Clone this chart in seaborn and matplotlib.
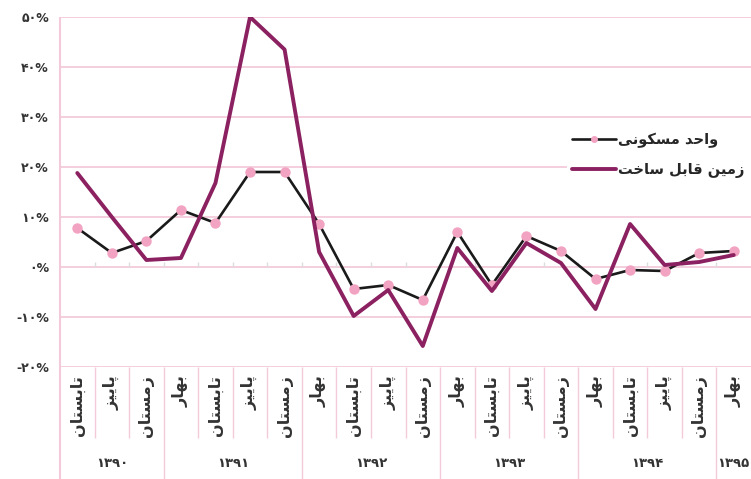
import numpy as np
import pandas as pd
import matplotlib
matplotlib.use("Agg")
import matplotlib.pyplot as plt
import seaborn as sns

# data
seasons = ["تابستان", "پاییز", "زمستان",
           "بهار", "تابستان", "پاییز", "زمستان",
           "بهار", "تابستان", "پاییز", "زمستان",
           "بهار", "تابستان", "پاییز", "زمستان",
           "بهار", "تابستان", "پاییز", "زمستان",
           "بهار"]
years = ["۱۳۹۰", "۱۳۹۱", "۱۳۹۲", "۱۳۹۳", "۱۳۹۴", "۱۳۹۵"]
year_sizes = [3, 4, 4, 4, 4, 1]
housing = [7.8, 2.8, 5.2, 11.4, 8.8, 19.0, 19.0, 8.6, -4.4, -3.6,
           -6.6, 7.0, -3.6, 6.2, 3.2, -2.4, -0.6, -0.8, 2.8, 3.2]
land = [18.8, 10.0, 1.4, 1.8, 16.8, 50.0, 43.5, 3.0, -9.8, -4.6,
        -15.8, 3.8, -4.8, 4.8, 0.8, -8.4, 8.6, 0.4, 1.0, 2.4]
series_names = ["واحد مسکونی", "زمین قابل ساخت"]
yticks = [-20, -10, 0, 10, 20, 30, 40, 50]
ytick_labels = ["-۲۰%", "-۱۰%", "۰%", "۱۰%", "۲۰%", "۳۰%", "۴۰%", "۵۰%"]

# arabic letter forms: isolated, final, initial, medial
FORMS = {
    "ا": ("\uFE8D", "\uFE8E", None, None),
    "ب": ("\uFE8F", "\uFE90", "\uFE91", "\uFE92"),
    "ت": ("\uFE95", "\uFE96", "\uFE97", "\uFE98"),
    "ح": ("\uFEA1", "\uFEA2", "\uFEA3", "\uFEA4"),
    "خ": ("\uFEA5", "\uFEA6", "\uFEA7", "\uFEA8"),
    "د": ("\uFEA9", "\uFEAA", None, None),
    "ر": ("\uFEAD", "\uFEAE", None, None),
    "ز": ("\uFEAF", "\uFEB0", None, None),
    "س": ("\uFEB1", "\uFEB2", "\uFEB3", "\uFEB4"),
    "ق": ("\uFED5", "\uFED6", "\uFED7", "\uFED8"),
    "ل": ("\uFEDD", "\uFEDE", "\uFEDF", "\uFEE0"),
    "م": ("\uFEE1", "\uFEE2", "\uFEE3", "\uFEE4"),
    "ن": ("\uFEE5", "\uFEE6", "\uFEE7", "\uFEE8"),
    "ه": ("\uFEE9", "\uFEEA", "\uFEEB", "\uFEEC"),
    "و": ("\uFEED", "\uFEEE", None, None),
    "پ": ("\uFB56", "\uFB57", "\uFB58", "\uFB59"),
    "ک": ("\uFB8E", "\uFB8F", "\uFB90", "\uFB91"),
    "ی": ("\uFBFC", "\uFBFD", "\uFBFE", "\uFBFF"),
}


def fa(word):
    # shape persian letters and put them in visual order
    out = []
    for i, ch in enumerate(word):
        if ch not in FORMS:
            out.append(ch)
            continue
        prev = word[i - 1] if i > 0 else ""
        nxt = word[i + 1] if i + 1 < len(word) else ""
        join_prev = prev in FORMS and FORMS[prev][2] is not None
        join_next = FORMS[ch][2] is not None and nxt in FORMS
        iso, fin, ini, med = FORMS[ch]
        if join_prev and join_next:
            out.append(med)
        elif join_prev:
            out.append(fin)
        elif join_next:
            out.append(ini)
        else:
            out.append(iso)
    return "".join(reversed(out))


sns.set_style("white")
plt.rcParams["font.family"] = ["DejaVu Sans"]
plt.rcParams["font.weight"] = "bold"

purple = "#8B2160"
pink = "#F2A3C2"
grid_c = "#F3CADA"
text_c = "#333333"

df = pd.DataFrame({"idx": np.arange(len(seasons)), "housing": housing, "land": land})

fig = plt.figure(figsize=(7.51, 4.79), dpi=100)
ax = fig.add_axes([60 / 751, 1 - 367 / 479, 691 / 751, 350 / 479])

sns.lineplot(data=df, x="idx", y="housing", ax=ax, color="#1a1a1a", lw=1.9,
             marker="o", markersize=7.5, markerfacecolor=pink,
             markeredgewidth=0, label=fa(series_names[0]), zorder=3)
sns.lineplot(data=df, x="idx", y="land", ax=ax, color=purple, lw=2.8,
             label=fa(series_names[1]), zorder=4)

ax.set_xlim(-0.5, len(seasons) - 0.5)
ax.set_ylim(-20, 50)
ax.set_yticks(yticks)
ax.set_yticklabels(ytick_labels, color=text_c, fontsize=9, fontweight="bold")
ax.set_xticks(np.arange(len(seasons)))
ax.set_xticklabels([fa(s) for s in seasons], rotation=90, va="top",
                   color=text_c, fontsize=11.5, fontweight="bold")
ax.tick_params(axis="both", length=0)
ax.tick_params(axis="x", pad=6)
ax.tick_params(axis="y", pad=8)
ax.set_xlabel("")
ax.set_ylabel("")
ax.yaxis.grid(True, color=grid_c, lw=1.3)
ax.set_axisbelow(True)
for s in ax.spines.values():
    s.set_visible(False)

xt = ax.get_xaxis_transform()
bounds = np.arange(len(seasons) + 1) - 0.5
year_edges = np.concatenate([[0], np.cumsum(year_sizes)]) - 0.5
# category separators under the axis
for b in bounds[1:-1]:
    if b in year_edges:
        continue
    ax.vlines(b, -0.203, 0, transform=xt, color=grid_c, lw=1, clip_on=False)
for b in year_edges[1:-1]:
    ax.vlines(b, -0.33, 0, transform=xt, color=grid_c, lw=1, clip_on=False)
ax.vlines(-0.5, -0.33, 1, transform=xt, color=grid_c, lw=1.5, clip_on=False)
# small ticks on zero line
ax.vlines(bounds[1:-1], 0, 1.0, color="#dddddd", lw=1, zorder=1)

# year labels
for yr, a, b in zip(years, year_edges[:-1], year_edges[1:]):
    ax.text((a + b) / 2, -0.275, yr, transform=xt, ha="center", va="center",
            color=text_c, fontsize=9.5, fontweight="bold", clip_on=False)

leg = ax.legend(loc="center right", bbox_to_anchor=(1.01, 0.605), frameon=True,
                fancybox=False, edgecolor="none", facecolor="white", framealpha=1,
                handlelength=3.0, handletextpad=0.15, labelspacing=1.0,
                prop={"size": 10.5, "weight": "bold"})
for line in leg.get_lines():
    line.set_markersize(5)

fig.savefig("out.png", dpi=100)
